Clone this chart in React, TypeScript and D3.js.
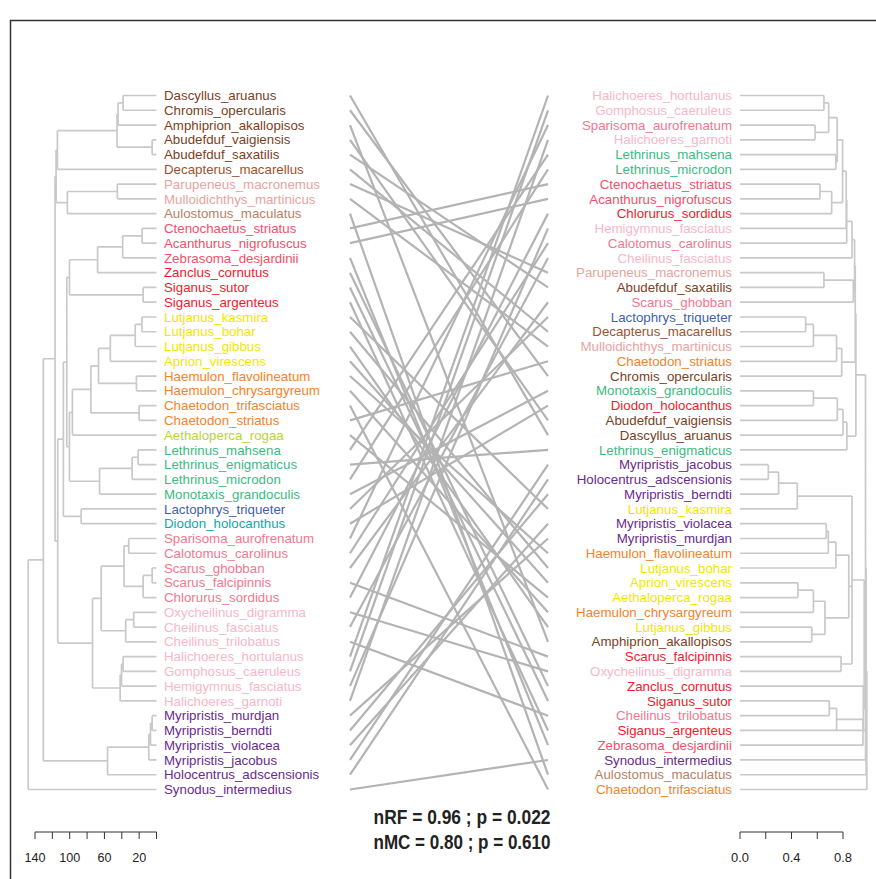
import React from "react";
import * as d3 from "d3";

// ---------- DATA ----------
// Trees in Newick-like notation: leaf names, internal nodes followed by their height.
const leftTree =
  "((((((((Dascyllus_aruanus,Chromis_opercularis)38.5,Amphiprion_akallopisos)44.3,(Abudefduf_vaigiensis,Abudefduf_saxatilis)5)45.5,Decapterus_macarellus)114.2,((Parupeneus_macronemus,Mulloidichthys_martinicus)45.1,Aulostomus_maculatus)102.7)115.7,(((((((Ctenochaetus_striatus,Acanthurus_nigrofuscus)16.6,Zebrasoma_desjardinii)39,Zanclus_cornutus)67.9,(Siganus_sutor,Siganus_argenteus)15.4)100.3,(((((((Lutjanus_kasmira,Lutjanus_bohar)16.8,Lutjanus_gibbus)24.5,Aprion_virescens)53.2,(Haemulon_flavolineatum,Haemulon_chrysargyreum)23.1)66.8,(Chaetodon_trifasciatus,Chaetodon_striatus)20)75.6,Aethaloperca_rogaa)96.9,(((Lethrinus_mahsena,Lethrinus_enigmaticus)21.2,Lethrinus_microdon)28.1,Monotaxis_grandoculis)65.6)100.3)103.4,(Lactophrys_triqueter,Diodon_holocanthus)86.8)107.3,((((Sparisoma_aurofrenatum,Calotomus_carolinus)32,((Scarus_ghobban,Scarus_falcipinnis)5,Chlorurus_sordidus)15.4)37.4,((Oxycheilinus_digramma,Cheilinus_fasciatus)26.3,Cheilinus_trilobatus)35.5)63.7,(((Halichoeres_hortulanus,Gomphosus_caeruleus)38.5,Hemigymnus_fasciatus)40.3,Halichoeres_garnoti)41.9)73.7)113.8)116.9,((((Myripristis_murdjan,Myripristis_berndti)5,Myripristis_violacea)6.9,Myripristis_jacobus)8.9,Holocentrus_adscensionis)56.4)130.4,Synodus_intermedius)147.8";

const rightTree =
  "((((((((((((((Halichoeres_hortulanus,Gomphosus_caeruleus)0.652,(Sparisoma_aurofrenatum,Halichoeres_garnoti)0.583)0.689,(Lethrinus_mahsena,Lethrinus_microdon)0.745)0.755,((Ctenochaetus_striatus,Acanthurus_nigrofuscus)0.621,Chlorurus_sordidus)0.712)0.797,Hemigymnus_fasciatus)0.825,Calotomus_carolinus)0.829,Cheilinus_fasciatus)0.87,((Parupeneus_macronemus,Abudefduf_saxatilis)0.652,Scarus_ghobban)0.88)0.89,((((Lactophrys_triqueter,Decapterus_macarellus)0.51,Mulloidichthys_martinicus)0.57,Chaetodon_striatus)0.75,Chromis_opercularis)0.79)0.895,((((Monotaxis_grandoculis,Diodon_holocanthus)0.57,Abudefduf_vaigiensis)0.756,Dascyllus_aruanus)0.8,Lethrinus_enigmaticus)0.83)0.9,((((((Myripristis_jacobus,Holocentrus_adscensionis)0.22,Myripristis_berndti)0.3,Lutjanus_kasmira)0.445,((((Myripristis_violacea,Myripristis_murdjan)0.67,Haemulon_flavolineatum)0.686,Lutjanus_bohar)0.745,((((Aprion_virescens,Aethaloperca_rogaa)0.45,Haemulon_chrysargyreum)0.57,(Lutjanus_gibbus,Amphiprion_akallopisos)0.557)0.66)0.764)0.845,(Scarus_falcipinnis,Oxycheilinus_digramma)0.785)0.87,(Zanclus_cornutus,(((Siganus_sutor,Cheilinus_trilobatus)0.694,Siganus_argenteus)0.75,Zebrasoma_desjardinii)0.955)0.958)0.965)0.97,Synodus_intermedius)0.975,Aulostomus_maculatus)0.98,Chaetodon_trifasciatus)0.985";

const BROWN = "#7b3f1e";
const LBROWN = "#a0522d";
const TAN = "#b98066";
const SALMON = "#e9a3a0";
const PINKRED = "#f2506a";
const RED = "#ee1b2c";
const YELLOW = "#f2e600";
const ORANGE = "#f5822a";
const YGREEN = "#b8d435";
const GREEN = "#3dba82";
const BLUE = "#3f5fae";
const TEAL = "#0fa8a8";
const PINK = "#f2788e";
const LPINK = "#f8b7c9";
const PURPLE = "#6a2a8e";

const leftLeafColors = [
  BROWN, BROWN, BROWN, BROWN, BROWN, LBROWN, SALMON, SALMON, TAN,
  PINKRED, PINKRED, PINKRED, RED, RED, RED,
  YELLOW, YELLOW, YELLOW, YELLOW, ORANGE, ORANGE, ORANGE, ORANGE, YGREEN,
  GREEN, GREEN, GREEN, GREEN, BLUE, TEAL,
  PINK, PINK, PINK, PINK, PINK, LPINK, LPINK, LPINK, LPINK, LPINK, LPINK, LPINK,
  PURPLE, PURPLE, PURPLE, PURPLE, PURPLE, PURPLE,
];

const rightLeafColors = [
  LPINK, LPINK, PINK, LPINK, GREEN, GREEN, PINKRED, PINKRED, RED, LPINK, PINK, LPINK,
  SALMON, BROWN, PINK, BLUE, LBROWN, SALMON, ORANGE, BROWN, GREEN, RED, BROWN, BROWN,
  GREEN, PURPLE, PURPLE, PURPLE, YELLOW, PURPLE, PURPLE, ORANGE, YELLOW, YELLOW, YELLOW,
  ORANGE, YELLOW, BROWN, RED, LPINK, RED, RED, PINK, RED, PINKRED, PURPLE, TAN, ORANGE,
];

const leftScaleTicks = [0, 20, 40, 60, 80, 100, 120, 140];
const leftScaleLabels = [140, 100, 60, 20];
const rightScaleTicks = [0, 0.2, 0.4, 0.6, 0.8];
const rightScaleLabels = [0, 0.4, 0.8];
const statLines = ["nRF = 0.96 ; p = 0.022", "nMC = 0.80 ; p = 0.610"];

// ---------- HELPERS ----------
type TNode = { name?: string; h: number; children?: TNode[]; y?: number };

function parseNewick(s: string): TNode {
  let i = 0;
  function node(): TNode {
    if (s[i] === "(") {
      i++;
      const children: TNode[] = [node()];
      while (s[i] === ",") {
        i++;
        children.push(node());
      }
      i++;
      let num = "";
      while (i < s.length && /[0-9.]/.test(s[i])) num += s[i++];
      return { children, h: +num };
    }
    let name = "";
    while (i < s.length && !/[,()]/.test(s[i])) name += s[i++];
    return { name, h: 0 };
  }
  return node();
}

function leavesOf(n: TNode, out: TNode[] = []): TNode[] {
  if (!n.children) out.push(n);
  else n.children.forEach((c) => leavesOf(c, out));
  return out;
}

function assignY(n: TNode, yOf: (i: number) => number, counter: { i: number }) {
  if (!n.children) {
    n.y = yOf(counter.i++);
    return;
  }
  n.children.forEach((c) => assignY(c, yOf, counter));
  const ys = n.children.map((c) => c.y as number);
  n.y = (Math.min(...ys) + Math.max(...ys)) / 2;
}

function segments(n: TNode, x: (h: number) => number, out: string[] = []): string[] {
  if (!n.children) return out;
  const ys = n.children.map((c) => c.y as number);
  const xn = x(n.h);
  out.push(`M${xn},${Math.min(...ys)}V${Math.max(...ys)}`);
  n.children.forEach((c) => {
    out.push(`M${xn},${c.y}H${x(c.h)}`);
    segments(c, x, out);
  });
  return out;
}

// ---------- COMPONENT ----------
export default function App() {
  const W = 876;
  const H = 879;
  const y0 = 95.5;
  const y1 = 789.5;

  const lt = parseNewick(leftTree);
  const rt = parseNewick(rightTree);
  const nL = leavesOf(lt).length;
  const nR = leavesOf(rt).length;
  const yL = d3.scaleLinear().domain([0, nL - 1]).range([y0, y1]);
  const yR = d3.scaleLinear().domain([0, nR - 1]).range([y0, y1]);
  assignY(lt, yL, { i: 0 });
  assignY(rt, yR, { i: 0 });
  const leftLeaves = leavesOf(lt);
  const rightLeaves = leavesOf(rt);

  const xL = d3.scaleLinear().domain([0, 140]).range([156.5, 35]);
  const xR = d3.scaleLinear().domain([0, 0.8]).range([740, 843]);

  const leftPath = segments(lt, xL).join("");
  const rightPath = segments(rt, xR).join("");
  const rightY = new Map(rightLeaves.map((l) => [l.name, l.y as number]));

  const connX0 = 350;
  const connX1 = 548;
  const font = "'Liberation Sans', Arial, Helvetica, sans-serif";
  const branch = "#c9c9c9";
  const barY = 832;

  return (
    <svg
      width={W}
      height={H}
      style={{ position: "absolute", left: 0, top: 0, background: "#fff" }}
      fontFamily={font}
    >
      <rect x={0} y={0} width={W} height={H} fill="#fff" />
      {/* frame */}
      <path d={`M10.5,${H}V20.5H${W}`} fill="none" stroke="#333" strokeWidth={1.5} />

      {/* connectors */}
      <g stroke="#b3b3b3" strokeWidth={2.2} fill="none">
        {leftLeaves.map((l, i) => (
          <line key={i} x1={connX0} y1={l.y} x2={connX1} y2={rightY.get(l.name)} />
        ))}
      </g>

      {/* trees */}
      <path d={leftPath} fill="none" stroke={branch} strokeWidth={1.7} />
      <path d={rightPath} fill="none" stroke={branch} strokeWidth={1.7} />

      {/* labels */}
      <g fontSize={13.3}>
        {leftLeaves.map((l, i) => (
          <text key={i} x={164} y={l.y} dy="0.35em" fill={leftLeafColors[i]}>
            {l.name}
          </text>
        ))}
        {rightLeaves.map((l, i) => (
          <text key={i} x={732} y={l.y} dy="0.35em" textAnchor="end" fill={rightLeafColors[i]}>
            {l.name}
          </text>
        ))}
      </g>

      {/* stats */}
      <g fontWeight="bold" fontSize={20} textAnchor="middle" fill="#222">
        {statLines.map((s, i) => (
          <text key={i} x={462} y={824 + i * 25} textLength={177} lengthAdjust="spacingAndGlyphs">
            {s}
          </text>
        ))}
      </g>

      {/* scale bars */}
      <g stroke="#333" strokeWidth={1} fill="none">
        <path d={`M${xL(140)},${barY}H${xL(0)}`} />
        {leftScaleTicks.map((t) => (
          <path key={t} d={`M${xL(t)},${barY}V${barY + 7}`} />
        ))}
        <path d={`M${xR(0)},${barY}H${xR(0.8)}`} />
        {rightScaleTicks.map((t) => (
          <path key={t} d={`M${xR(t)},${barY}V${barY + 7}`} />
        ))}
      </g>
      <g fontSize={13} fill="#222" textAnchor="middle">
        {leftScaleLabels.map((t) => (
          <text key={t} x={xL(t)} y={862} textLength={t >= 100 ? 21 : 14} lengthAdjust="spacingAndGlyphs">
            {t}
          </text>
        ))}
        {rightScaleLabels.map((t) => (
          <text key={t} x={xR(t)} y={862} textLength={18} lengthAdjust="spacingAndGlyphs">
            {t.toFixed(1)}
          </text>
        ))}
      </g>
    </svg>
  );
}
